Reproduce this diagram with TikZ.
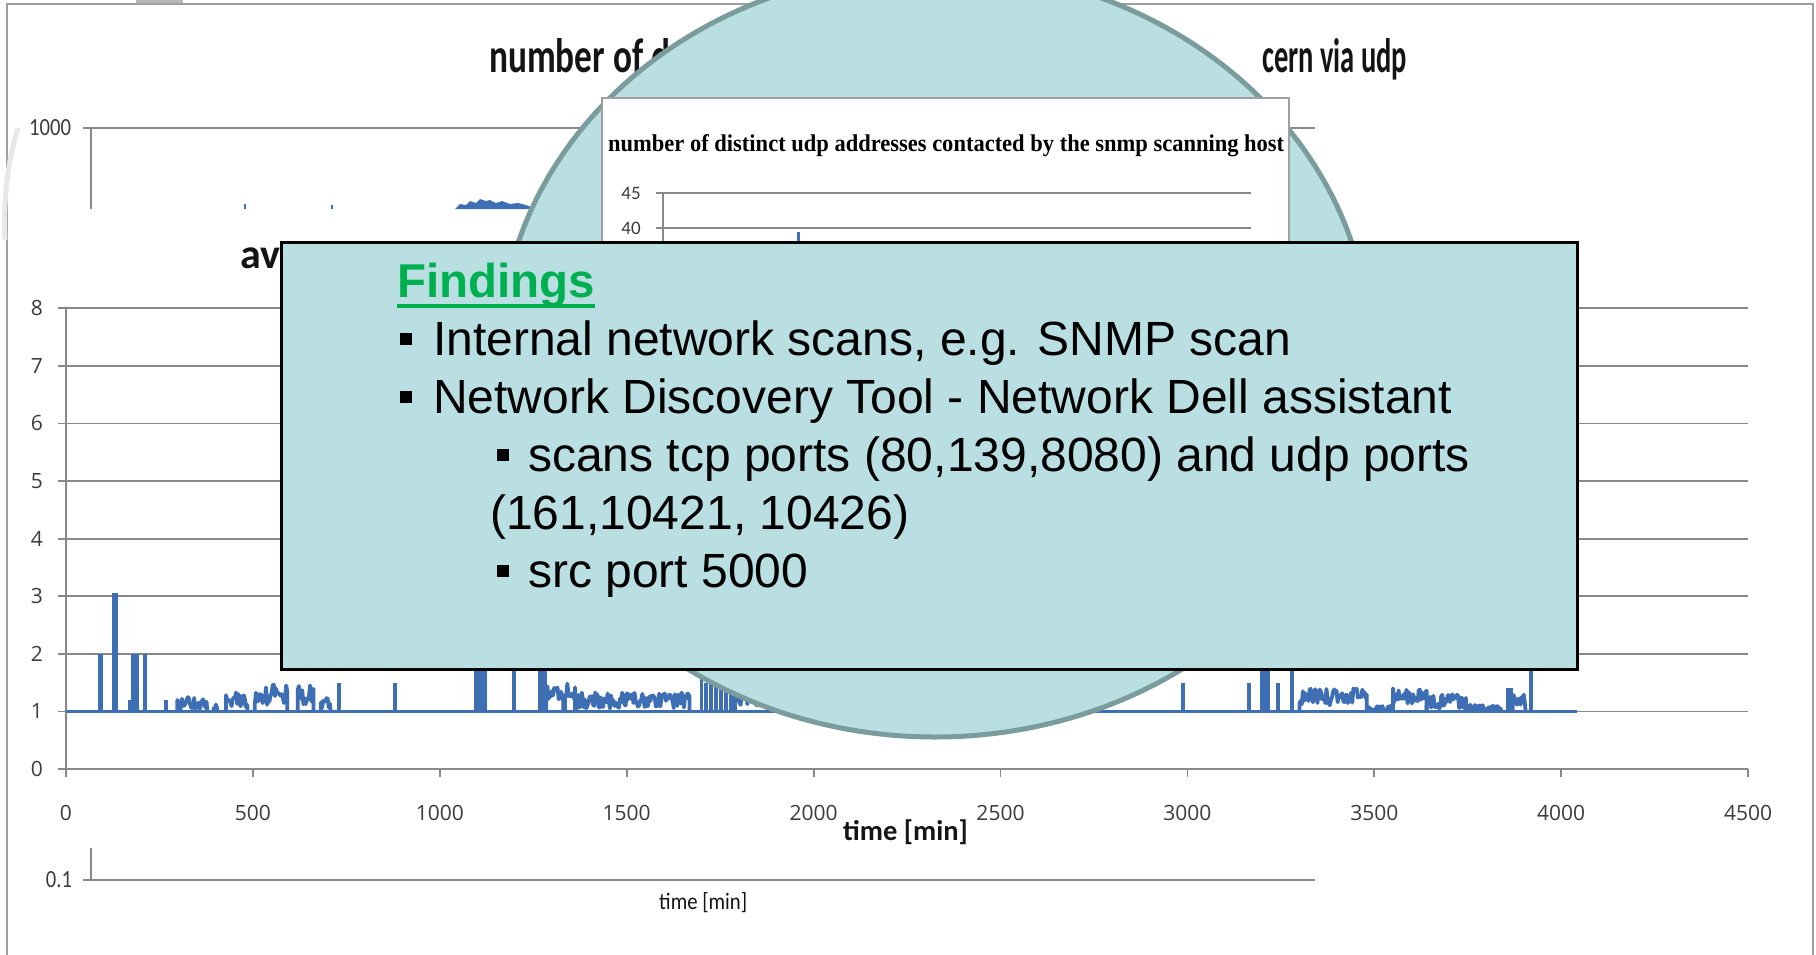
\documentclass[tikz,border=0pt]{standalone}
\usepackage{fontspec}
\setmainfont{Liberation Sans}
\newfontfamily\carlito{Carlito}
\newfontfamily\osans{Open Sans}
\newfontfamily\tnr{Liberation Serif}
\definecolor{circfill}{RGB}{185,223,227}
\definecolor{circline}{RGB}{122,156,156}
\definecolor{gridgray}{RGB}{136,136,136}
\definecolor{lblgray}{RGB}{60,60,60}
\definecolor{datablue}{RGB}{62,110,180}
\definecolor{findgreen}{RGB}{0,176,80}
\definecolor{framegray}{RGB}{160,160,160}
\definecolor{titlegray}{RGB}{20,20,20}
\newcommand\noiseseg[4]{%
  \pgfmathtruncatemacro\segN{(#2-#1)/3}%
  \draw[dataline] (#1,1) foreach \i in {0,...,\segN}{ -- ({#1+3*\i},{#3+#4*rnd}) } -- (#2,1);}
\newcommand\spk[2]{\draw[dataline] (#1,1) -- (#1,#2);}
\begin{document}
\begin{tikzpicture}[x=1pt,y=-1pt,
  gridln/.style={draw=gridgray, line width=1.8pt},
  axislbl/.style={font={\osans\fontsize{21}{21}\selectfont}, text=lblgray, inner sep=0},
  smalllbl/.style={font={\carlito\fontsize{19}{19}\selectfont}, text=lblgray, inner sep=0},
  dataline/.style={draw=datablue, line width=3.8pt, line join=round},
  txt/.style={anchor=base west, inner sep=0, font={\fontsize{48}{58}\selectfont}}]
\useasboundingbox (0,0) rectangle (1816,954);
\clip (0,0) rectangle (1816,954);
\fill[white] (0,0) rectangle (1816,954);
% frame and artefacts
\draw[framegray, line width=2pt] (7,960) -- (7,4) -- (1813,4) -- (1813,960);
\fill[gray!55] (136,0) rectangle (183,3);
\draw[gray!18, line width=5pt] (18,128) .. controls (8,160) and (3,200) .. (5,240);
% back chart (upper/lower remains)
\node[anchor=base west, inner sep=0, text=titlegray] (t1a) at (489,72) {\carlito\bfseries\resizebox{181pt}{34pt}{number of d}};
\node[anchor=base west, inner sep=0, text=titlegray] (t1b) at (1262,72) {\carlito\bfseries\resizebox{145pt}{34pt}{cern via udp}};
\node[inner sep=0, text=lblgray] (l1000) at (50,128) {\carlito\resizebox{42pt}{16pt}{1000}};
\draw[gridln] (83,128) -- (1315,128);
\draw[gridln] (91,128) -- (91,209);
\draw[datablue, line width=2pt] (245,209) -- (245,204);
\draw[datablue, line width=2pt] (332,209) -- (332,205);
\fill[datablue] (455,209) -- (460,204) -- (466,205) -- (470,201) -- (476,203) -- (480,199) -- (486,201) -- (490,200) -- (496,203) -- (502,201) -- (510,204) -- (518,203) -- (526,205) -- (536,209) -- cycle;
\draw[gridln] (83,880) -- (1315,880);
\draw[gridln] (91,848) -- (91,880);
\node[inner sep=0, text=lblgray] (l01) at (59,880) {\carlito\resizebox{26pt}{16pt}{0.1}};
\node[anchor=base west, inner sep=0, text=titlegray] (tm1) at (659,909) {\carlito\resizebox{88pt}{17pt}{time [min]}};
% main chart
\node[anchor=base west, inner sep=0, text=titlegray] (avt) at (240,268) {\carlito\bfseries\fontsize{42}{42}\selectfont av};
\foreach \v in {1,...,8} \draw[gridln] (58,{769-57.6*\v}) -- (1748,{769-57.6*\v});
\draw[gridln] (66,308.2) -- (66,769);
\draw[gridln] (58,769) -- (1748,769);
\foreach \k in {0,...,9} \draw[gridln] ({66+186.9*\k},769) -- ({66+186.9*\k},777);
\foreach \v in {0,...,8} \node[axislbl] (yl\v) at (37,{769-57.6*\v}) {\v};
\foreach \k [evaluate=\k as \lab using int(500*\k)] in {0,...,9}
  \node[axislbl] (xl\k) at ({66+186.9*\k},813) {\lab};
\node[anchor=base west, inner sep=0, text=titlegray] (tm2) at (843,840) {\carlito\bfseries\fontsize{28.5}{28.5}\selectfont time [min]};
% data series
\pgfmathsetseed{12345}
\begin{scope}[shift={(66pt,-769pt)}, x=0.3738pt, y=57.6pt]
  \draw[dataline] (0,1) -- (4042,1);
  \spk{90}{2}\spk{95}{2}
  \spk{127}{3.05}\spk{131}{3.05}\spk{135}{3.05}
  \spk{172}{1.2}\spk{179}{2}\spk{184}{2}\spk{190}{2}\spk{211}{2}
  \spk{268}{1.2}
  \noiseseg{298}{378}{1.04}{0.22}
  \noiseseg{395}{405}{1.0}{0.12}
  \noiseseg{428}{486}{1.05}{0.3}
  \noiseseg{505}{592}{1.1}{0.42}
  \noiseseg{620}{662}{1.1}{0.36}
  \noiseseg{682}{708}{1.05}{0.3}
  \spk{730}{1.5}\spk{880}{1.5}
  \spk{1097}{2.5}\spk{1104}{2.5}\spk{1112}{2.5}\spk{1120}{2.5}
  \spk{1198}{2.5}
  \spk{1268}{2.5}\spk{1275}{2.5}\spk{1282}{2.5}
  \noiseseg{1285}{1330}{1.15}{0.3}
  \noiseseg{1335}{1362}{1.2}{0.3}
  \noiseseg{1365}{1668}{1.05}{0.28}
  \spk{1700}{2.5}\spk{1712}{1.5}\spk{1725}{2.5}\spk{1738}{2.5}\spk{1752}{2.5}\spk{1766}{2.5}\spk{1780}{2.5}
  \noiseseg{1790}{2100}{1.1}{0.3}
  \spk{2988}{1.5}
  \spk{3165}{1.5}
  \spk{3200}{2.5}\spk{3208}{2.5}\spk{3216}{2.5}
  \spk{3243}{1.5}
  \spk{3280}{2.5}
  \noiseseg{3300}{3480}{1.1}{0.3}
  \noiseseg{3480}{3545}{1.0}{0.1}
  \noiseseg{3550}{3640}{1.1}{0.3}
  \noiseseg{3640}{3745}{1.05}{0.25}
  \noiseseg{3745}{3840}{1.0}{0.12}
  \spk{3858}{1.4}\spk{3866}{1.4}
  \noiseseg{3870}{3905}{1.1}{0.2}
  \spk{3919}{2.5}
\end{scope}
% magnifier ellipse
\draw[fill=circfill, draw=circline, line width=5pt] (935,353) ellipse [x radius=435, y radius=384];
% inner chart
\draw[fill=white, draw=framegray, line width=1.5pt] (602,98) rectangle (1289,262);
\node[anchor=base west, inner sep=0] (t2) at (608,151) {\tnr\bfseries\resizebox{676pt}{17pt}{number of distinct udp addresses contacted by the snmp scanning host}};
\draw[gridln] (656,193) -- (1251,193);
\draw[gridln] (656,228) -- (1251,228);
\draw[gridln] (663,193) -- (663,262);
\node[smalllbl] (l45) at (631,193) {45};
\node[smalllbl] (l40) at (631,228) {40};
\draw[datablue, line width=3pt] (798,232) -- (798,255);
% findings box
\node[draw=black, line width=3pt, fill=circfill, minimum width=1296pt, minimum height=427pt, inner sep=0, anchor=north west] (box) at (280,241) {};
\node[txt, font={\bfseries\fontsize{47.5}{50}\selectfont}, text=findgreen] (fnd) at (397,297) {Findings};
\draw[findgreen, line width=4pt] ([yshift=-9pt]fnd.base west) -- ([yshift=-9pt]fnd.base east);
\node[txt] (b1) at (400,355) {\rule[10pt]{12pt}{12pt}\hspace{21pt}Internal network scans, e.g. SNMP scan};
\node[txt] (b2) at (400,413) {\rule[10pt]{12pt}{12pt}\hspace{21pt}Network Discovery Tool - Network Dell assistant};
\node[txt] (b3) at (497,471) {\rule[10pt]{12pt}{12pt}\hspace{19pt}scans tcp ports (80,139,8080) and udp ports};
\node[txt] (b4) at (490,529) {(161,10421, 10426)};
\node[txt] (b5) at (497,587) {\rule[10pt]{12pt}{12pt}\hspace{19pt}src port 5000};
\end{tikzpicture}
\end{document}
